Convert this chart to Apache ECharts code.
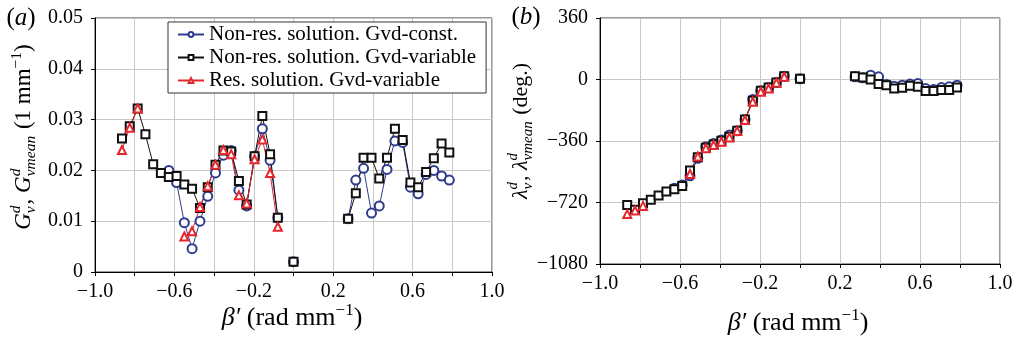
<!DOCTYPE html>
<html><head><meta charset="utf-8">
<script src="https://cdn.jsdelivr.net/npm/echarts@6/dist/echarts.min.js"></script>
<style>html,body{margin:0;padding:0;background:#fff}#c{width:1018px;height:342px}</style>
</head><body><div id="c"></div>
<script>
// beta' values (rad/mm)
const beta = [-0.864,-0.825,-0.785,-0.746,-0.707,-0.668,-0.628,-0.589,-0.550,-0.511,-0.471,-0.432,-0.393,-0.353,-0.314,-0.275,-0.236,-0.196,-0.157,-0.118,-0.079,0,0.275,0.314,0.353,0.393,0.432,0.471,0.511,0.550,0.589,0.628,0.668,0.707,0.746,0.785];
// panel (a): G (1/mm)
const gConst = [null,null,null,null,null,null,0.0200,0.0176,0.0097,0.0046,0.0100,0.0149,0.0195,0.0230,0.0239,0.0161,0.0130,0.0228,0.0282,0.0220,0.0107,0.0020,0.0105,0.0181,0.0204,0.0116,0.0130,0.0202,0.0258,0.0255,0.0167,0.0154,0.0192,0.0200,0.0189,0.0181];
const gVar = [0.0263,0.0287,0.0322,0.0271,0.0212,0.0195,0.0187,0.0189,0.0172,0.0164,0.0126,0.0167,0.0211,0.0239,0.0237,0.0179,0.0133,0.0228,0.0307,0.0232,0.0107,0.0020,0.0105,0.0155,0.0225,0.0225,0.0184,0.0225,0.0282,0.0260,0.0176,0.0167,0.0197,0.0224,0.0253,0.0235];
const gRes = [0.0240,0.0284,0.0322,null,null,null,null,null,0.0070,0.0080,0.0128,0.0169,0.0211,0.0240,0.0232,0.0151,0.0135,0.0222,0.0261,0.0195,0.0089,null,null,null,null,null,null,null,null,null,null,null,null,null,null,null];
// panel (b): lambda (deg.)
const lamConst = [null,null,null,null,null,null,-636,-617,-564,-461,-393,-374,-354,-325,-300,-234,-117,-66,-47,-18,19,4,16,10,25,16,-29,-39,-33,-27,-23,-53,-58,-47,-43,-33];
const lamVar = [-734,-763,-724,-704,-679,-656,-642,-623,-533,-455,-399,-381,-358,-335,-300,-234,-125,-66,-47,-18,19,4,19,12,0,-27,-33,-53,-49,-37,-43,-68,-68,-62,-62,-47];
const lamRes = [-788,-767,-740,null,null,null,null,null,-553,-451,-403,-383,-364,-339,-302,-237,-130,-72,-53,-19,16,null,null,null,null,null,null,null,null,null,null,null,null,null,null,null];

const seriesNames = ['Non-res. solution. Gvd-const.','Non-res. solution. Gvd-variable','Res. solution. Gvd-variable'];
const xTickValues = [-1.0,-0.6,-0.2,0.2,0.6,1.0];
const xTickLabels = ['\u22121.0','\u22120.6','\u22120.2','0.2','0.6','1.0'];
const gTickLabels = ['0','0.01','0.02','0.03','0.04','0.05'];
const lamTickLabels = ['\u22121080','\u2212720','\u2212360','0','360'];

const FONT = '"Liberation Serif", "Times New Roman", serif';
const BLUE = '#2f3c8e', BLACK = '#111', RED = '#e5262c';

function pairs(ys){
  const out = [];
  for (let i = 0; i < beta.length; i++){
    if (i > 0 && beta[i] - beta[i-1] > 0.06) out.push([(beta[i]+beta[i-1])/2, '-']);
    out.push([beta[i], ys[i] == null ? '-' : ys[i]]);
  }
  return out;
}

const mctx = document.createElement('canvas').getContext('2d');
function tw(t, sz, it){ mctx.font = (it?'italic ':'') + sz + 'px ' + FONT; return mctx.measureText(t).width; }
function buildLine(pieces, main, small){
  let x = 0; const kids = [];
  const mk = (t, sz, it, xx, yy) => ({type:'text', x: xx, y: yy, style:{text:t, font:(it?'italic ':'')+sz+'px '+FONT, fill:'#000', align:'left', verticalAlign:'middle', textAlign:'left', textVerticalAlign:'middle'}});
  for (const p of pieces){
    if (p.stack){
      kids.push(mk(p.sup, small, true, x, -0.34*main));
      kids.push(mk(p.sub, small, true, x, 0.3*main));
      x += Math.max(tw(p.sup, small, true), tw(p.sub, small, true)) + 1;
    } else if (p.sup){
      kids.push(mk(p.sup, small, false, x, -0.3*main));
      x += tw(p.sup, small, false);
    } else {
      kids.push(mk(p.t, main, p.it, x, 0));
      x += tw(p.t, main, p.it);
    }
  }
  kids.forEach(k => k.x -= x/2);
  return kids;
}
const yTitleA = buildLine([{t:'G',it:true},{stack:1,sup:'d',sub:'v'},{t:', '},{t:'G',it:true},{stack:1,sup:'d',sub:'vmean'},{t:' (1 mm'},{sup:'\u22121'},{t:')'}], 23, 15.5);
const yTitleB = buildLine([{t:'\u03bb',it:true},{stack:1,sup:'d',sub:'v'},{t:', '},{t:'\u03bb',it:true},{stack:1,sup:'d',sub:'vmean'},{t:' (deg.)'}], 22, 15);
const xTitle = () => buildLine([{t:'\u03b2\u2032',it:true},{t:' (rad mm'},{sup:'\u22121'},{t:')'}], 26, 17);

function xAxisCfg(gi){
  return {type:'value', gridIndex:gi, min:-1, max:1, interval:0.2,
    axisLine:{show:true, onZero:false, lineStyle:{color:'#000', width:1}},
    axisTick:{show:true, inside:false, length:4, lineStyle:{color:'#000'}},
    splitLine:{show:true, lineStyle:{color:'#c8c8c8', width:1}},
    axisLabel:{fontFamily:FONT, fontSize:20, color:'#000', margin:10,
      formatter: v => { const i = xTickValues.findIndex(t => Math.abs(t - v) < 1e-6); return i >= 0 ? xTickLabels[i] : ''; }}};
}
function yAxisCfg(gi, min, max, interval, fmt){
  return {type:'value', gridIndex:gi, min, max, interval,
    axisLine:{show:true, onZero:false, lineStyle:{color:'#000', width:1}},
    axisTick:{show:true, inside:false, length:4, lineStyle:{color:'#000'}},
    splitLine:{show:true, lineStyle:{color:'#c8c8c8', width:1}},
    axisLabel:{fontFamily:FONT, fontSize:20, color:'#000', margin:12, formatter: fmt}};
}
function mkSeries(name, gi, ys, color, symbol, size){
  return {name, type:'line', xAxisIndex:gi, yAxisIndex:gi, data:pairs(ys), symbol, symbolSize:size,
    showAllSymbol:true, connectNulls:false, color, lineStyle:{color, width:1}, itemStyle:{color, borderWidth:1},
    emphasis:{disabled:true}};
}

const chart = echarts.init(document.getElementById('c'), null, {renderer:'canvas'});
chart.setOption({
  animation:false,
  backgroundColor:'#fff',
  grid:[
    {left:95, top:18, width:397, height:254, show:true, borderColor:'#333', borderWidth:1, backgroundColor:'transparent'},
    {left:600, top:18, width:400, height:246, show:true, borderColor:'#333', borderWidth:1, backgroundColor:'transparent'}
  ],
  xAxis:[xAxisCfg(0), xAxisCfg(1)],
  yAxis:[
    yAxisCfg(0, 0, 0.05, 0.01, v => gTickLabels[Math.round(v/0.01)]),
    yAxisCfg(1, -1080, 360, 360, v => lamTickLabels[Math.round((v+1080)/360)])
  ],
  legend:{data:seriesNames, orient:'vertical', left:168, top:22, itemWidth:26, itemHeight:6, itemGap:2,
    padding:[2,10,2,9], borderColor:'#333', borderWidth:1, backgroundColor:'#fff', borderRadius:0,
    textStyle:{fontFamily:FONT, fontSize:21, color:'#000', lineHeight:21}, selectedMode:false},
  series:[
    mkSeries(seriesNames[0], 0, gConst, BLUE, 'emptyCircle', 9),
    mkSeries(seriesNames[1], 0, gVar, BLACK, 'emptyRect', 8),
    mkSeries(seriesNames[2], 0, gRes, RED, 'emptyTriangle', 8),
    mkSeries(seriesNames[0], 1, lamConst, BLUE, 'emptyCircle', 9),
    mkSeries(seriesNames[1], 1, lamVar, BLACK, 'emptyRect', 8),
    mkSeries(seriesNames[2], 1, lamRes, RED, 'emptyTriangle', 8)
  ],
  graphic:[
    {type:'group', x:24, y:137, rotation:Math.PI/2, children:yTitleA},
    {type:'group', x:521, y:131, rotation:Math.PI/2, children:yTitleB},
    {type:'group', x:292, y:318, children:xTitle()},
    {type:'group', x:798, y:323, children:xTitle()},
    {type:'group', x:21, y:18, children:buildLine([{t:'('},{t:'a',it:true},{t:')'}], 25, 17)},
    {type:'group', x:526, y:17, children:buildLine([{t:'('},{t:'b',it:true},{t:')'}], 25, 17)}
  ]
});
</script></body></html>
